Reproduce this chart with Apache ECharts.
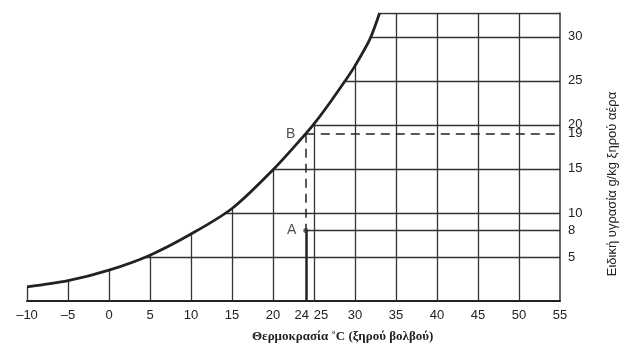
<!DOCTYPE html>
<html>
<head>
<meta charset="utf-8">
<script src="https://cdn.jsdelivr.net/npm/echarts@6/dist/echarts.min.js"></script>
<style>
  html, body { margin: 0; padding: 0; background: #fff; }
  #chart { width: 622px; height: 350px; }
</style>
</head>
<body>
<div id="chart"></div>
<script>
  // saturation curve
  const tempC = [-10, -5, 0, 5, 10, 15, 20, 24, 25, 27, 28.8, 30, 31.8, 33]
  const satHum = [1.6, 2.3, 3.5, 5.2, 7.6, 10.5, 14.9, 19, 20.1, 22.6, 25, 26.7, 29.7, 32.7]

  const xLabels = [-10, -5, 0, 5, 10, 15, 20, 24, 25, 30, 35, 40, 45, 50, 55]
  const yLabels = [5, 8, 10, 15, 19, 20, 25, 30]
  const gridTemps = [-10, -5, 0, 5, 10, 15, 20, 25, 30, 35, 40, 45, 50]
  const gridHums = [5, 10, 15, 20, 25, 30]
  const pointA = [24, 8]
  const pointB = [24, 19]

  const xMin = -10
  const xMax = 55
  const yMax = 32.7

  function satAt(t) {
    if (t >= tempC[tempC.length - 1]) return yMax
    for (let i = 1; i < tempC.length; i++) {
      if (t <= tempC[i]) {
        const f = (t - tempC[i - 1]) / (tempC[i] - tempC[i - 1])
        return satHum[i - 1] + f * (satHum[i] - satHum[i - 1])
      }
    }
    return yMax
  }

  function tempAt(h) {
    for (let i = 1; i < satHum.length; i++) {
      if (h <= satHum[i]) {
        const f = (h - satHum[i - 1]) / (satHum[i] - satHum[i - 1])
        return tempC[i - 1] + f * (tempC[i] - tempC[i - 1])
      }
    }
    return tempC[tempC.length - 1]
  }

  const gridSegs = []
  gridTemps.forEach((t) => gridSegs.push({ coords: [[t, satAt(t)], [t, 0]] }))
  gridHums.forEach((h) => gridSegs.push({ coords: [[tempAt(h), h], [xMax, h]] }))
  gridSegs.push({ coords: [[tempC[tempC.length - 1], yMax], [xMax, yMax]] })
  gridSegs.push({ coords: [pointA, [xMax, pointA[1]]] })

  const dashSegs = [
    { coords: [pointB, [xMax, pointB[1]]] },
    { coords: [pointB, pointA] },
  ]

  const chart = echarts.init(document.getElementById('chart'), null, { renderer: 'canvas' })

  const option = {
    animation: false,
    backgroundColor: '#fff',
    textStyle: { fontFamily: 'Liberation Sans, Arial, sans-serif' },
    grid: { left: 27, right: 62, top: 13, bottom: 49 },
    xAxis: {
      type: 'value',
      min: xMin,
      max: xMax,
      axisLine: { show: true, onZero: false, lineStyle: { color: '#222', width: 2 } },
      axisTick: { show: false },
      splitLine: { show: false },
      axisLabel: {
        customValues: xLabels,
        color: '#222',
        fontSize: 13,
        margin: 8,
        formatter: function (v) {
          if (v === 24) return '{l|24}'
          if (v === 25) return '{r|25}'
          return v < 0 ? '\u2013' + Math.abs(v) : String(v)
        },
        rich: {
          l: { fontSize: 13, color: '#222', padding: [0, 8, 0, 0] },
          r: { fontSize: 13, color: '#222', padding: [0, 0, 0, 14] },
        },
      },
    },
    yAxis: {
      type: 'value',
      position: 'right',
      min: 0,
      max: yMax,
      axisLine: { show: true, onZero: false, lineStyle: { color: '#333', width: 1.5 } },
      axisTick: { show: false },
      splitLine: { show: false },
      axisLabel: {
        customValues: yLabels,
        color: '#222',
        fontSize: 13,
        margin: 8,
      },
    },
    series: [
      {
        type: 'lines',
        coordinateSystem: 'cartesian2d',
        silent: true,
        lineStyle: { color: '#333', width: 1.3, opacity: 1 },
        data: gridSegs,
      },
      {
        type: 'lines',
        coordinateSystem: 'cartesian2d',
        silent: true,
        lineStyle: { color: '#222', width: 1.5, type: [9, 6], opacity: 1 },
        data: dashSegs,
      },
      {
        type: 'lines',
        coordinateSystem: 'cartesian2d',
        silent: true,
        lineStyle: { color: '#222', width: 2.5, opacity: 1 },
        data: [{ coords: [pointA, [pointA[0], 0]] }],
      },
      {
        type: 'line',
        data: tempC.map((t, i) => [t, satHum[i]]),
        smooth: 0.3,
        showSymbol: false,
        lineStyle: { color: '#222', width: 2.8 },
        z: 5,
      },
      {
        type: 'scatter',
        data: [pointA],
        symbolSize: 5,
        itemStyle: { color: '#333' },
        label: { show: true, formatter: 'A', position: 'left', distance: 7, color: '#222', fontSize: 14 },
        z: 6,
      },
      {
        type: 'scatter',
        data: [pointB],
        symbolSize: 1,
        itemStyle: { color: '#222' },
        label: { show: true, formatter: 'B', position: 'left', distance: 10, color: '#222', fontSize: 14 },
        z: 6,
      },
    ],
    graphic: [
      {
        type: 'text',
        left: 252,
        top: 330,
        style: {
          text: 'Θερμοκρασία ˚C (ξηρού βολβού)',
          fill: '#222',
          font: 'bold 13px "Liberation Serif", serif',
        },
      },
      {
        type: 'text',
        x: 612,
        y: 184,
        rotation: Math.PI / 2,
        style: {
          text: 'Ειδική υγρασία g/kg ξηρού αέρα',
          fill: '#222',
          font: '13px "Liberation Sans Narrow", "Liberation Sans", sans-serif',
          align: 'center',
          verticalAlign: 'middle',
        },
      },
    ],
  }

  chart.setOption(option)
</script>
</body>
</html>
